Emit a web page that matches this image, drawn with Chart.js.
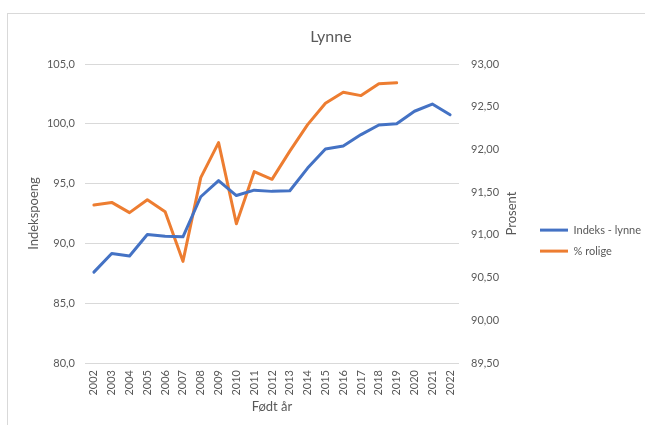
<!DOCTYPE html>
<html>
<head>
<meta charset="utf-8">
<script src="https://cdn.jsdelivr.net/npm/chart.js@4/dist/chart.umd.min.js"></script>
<style>
  html, body { margin: 0; padding: 0; background: #fff; overflow: hidden; }
  #wrap { position: relative; width: 645px; height: 425px; }
  #frame { position: absolute; left: 7px; top: 13px; width: 700px; height: 500px; border: 1px solid #d9d9d9; box-sizing: border-box; }
  canvas { position: absolute; left: 0; top: 0; }
</style>
</head>
<body>
<div id="wrap">
  <div id="frame"></div>
  <canvas id="c" width="645" height="425"></canvas>
</div>
<script>
const years = ['2002','2003','2004','2005','2006','2007','2008','2009','2010','2011','2012','2013','2014','2015','2016','2017','2018','2019','2020','2021','2022'];
const indeksLynne = [87.6, 89.15, 88.95, 90.75, 90.6, 90.55, 93.9, 95.25, 94.0, 94.45, 94.35, 94.4, 96.3, 97.9, 98.15, 99.1, 99.9, 100.0, 101.05, 101.65, 100.75];
const prosentRolige = [91.35, 91.38, 91.26, 91.41, 91.27, 90.69, 91.67, 92.08, 91.13, 91.74, 91.65, 91.98, 92.29, 92.54, 92.67, 92.63, 92.77, 92.78, null, null, null];
const leftTicks = [80, 85, 90, 95, 100, 105];
const rightTicks = [89.5, 90, 90.5, 91, 91.5, 92, 92.5, 93];

const FONT = 'Lato, "Open Sans", sans-serif';
const GREY = '#595959';

const rightTitlePlugin = {
  id: 'rightTitle',
  afterDraw(chart) {
    const s = chart.scales.y1;
    const ctx = chart.ctx;
    ctx.save();
    ctx.fillStyle = GREY;
    ctx.font = '13px ' + FONT;
    ctx.textAlign = 'center';
    ctx.textBaseline = 'middle';
    ctx.translate(s.right - 18, (chart.chartArea.top + chart.chartArea.bottom) / 2);
    ctx.rotate(-Math.PI / 2);
    ctx.fillText('Prosent', 0, 0);
    ctx.restore();
  }
};

new Chart(document.getElementById('c'), {
  type: 'line',
  data: {
    labels: years,
    datasets: [
      { label: 'Indeks - lynne', data: indeksLynne, yAxisID: 'y', borderColor: '#4472C4', backgroundColor: '#4472C4', borderWidth: 3, pointRadius: 0, tension: 0, borderJoinStyle: 'round', borderCapStyle: 'round' },
      { label: '% rolige', data: prosentRolige, yAxisID: 'y1', borderColor: '#ED7D31', backgroundColor: '#ED7D31', borderWidth: 3, pointRadius: 0, tension: 0, borderJoinStyle: 'round', borderCapStyle: 'round' }
    ]
  },
  options: {
    responsive: false,
    animation: false,
    events: [],
    layout: { padding: { left: 17, right: 0, top: 0, bottom: 0 } },
    plugins: {
      title: {
        display: true, text: 'Lynne', color: GREY,
        font: { family: FONT, size: 16, weight: 'normal' },
        padding: { top: 27.4, bottom: 17.4 }
      },
      legend: {
        display: true, position: 'right', maxWidth: 115,
        title: { display: true, text: '', padding: { top: 41.8, bottom: 0 } },
        labels: {
          usePointStyle: true, pointStyle: 'line', pointStyleWidth: 28,
          color: GREY, padding: 10,
          font: { family: FONT, size: 11 }
        }
      },
      tooltip: { enabled: false }
    },
    scales: {
      x: {
        type: 'category', offset: true,
        grid: { display: false, drawTicks: false },
        border: { display: false },
        ticks: { color: GREY, font: { family: FONT, size: 11 }, minRotation: 90, maxRotation: 90, autoSkip: false, padding: 7 },
        title: { display: true, text: 'Født år', color: GREY, font: { family: FONT, size: 13 }, padding: { top: 0, bottom: 10.5 } },
        afterFit(s) { s.height = 62; }
      },
      y: {
        position: 'left', min: 80, max: 105,
        afterBuildTicks(s) { s.ticks = leftTicks.map(v => ({ value: v })); },
        grid: { color: '#d9d9d9', lineWidth: 1, drawTicks: false },
        border: { display: false },
        ticks: { color: GREY, font: { family: FONT, size: 11 }, padding: 10, callback: v => v.toFixed(1).replace('.', ',') },
        title: { display: true, text: 'Indekspoeng', color: GREY, font: { family: FONT, size: 13 }, padding: { top: 9.2, bottom: 0 } },
        afterFit(s) { s.width = 68; }
      },
      y1: {
        position: 'right', min: 89.5, max: 93,
        afterBuildTicks(s) { s.ticks = rightTicks.map(v => ({ value: v })); },
        grid: { display: false, drawTicks: false },
        border: { display: false },
        ticks: { color: GREY, font: { family: FONT, size: 11 }, padding: 12, callback: v => v.toFixed(2).replace('.', ',') },
        title: { display: false },
        afterFit(s) { s.width = 71; }
      }
    }
  },
  plugins: [rightTitlePlugin]
});
</script>
</body>
</html>
